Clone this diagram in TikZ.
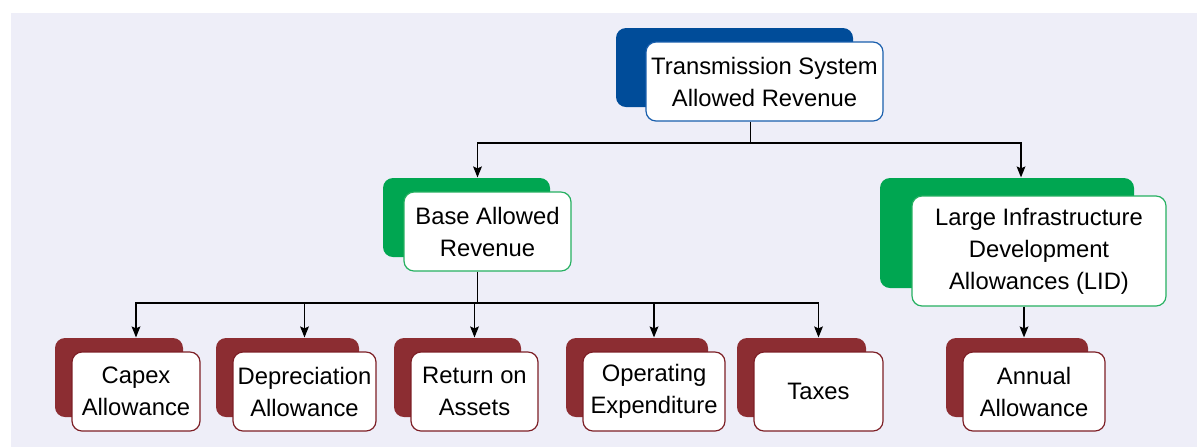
\documentclass[tikz,border=0pt]{standalone}
\usepackage{fontspec}
\setmainfont{Liberation Sans}
\usetikzlibrary{arrows.meta, shadows}

\definecolor{revblue}{HTML}{004C99}
\definecolor{revblueline}{HTML}{1A5FAD}
\definecolor{revgreen}{HTML}{00A651}
\definecolor{revgreenline}{HTML}{26B061}
\definecolor{revred}{HTML}{8C2D32}
\definecolor{revredline}{HTML}{7D1F26}
\definecolor{backdrop}{HTML}{EEEEF8}

\tikzset{
  card/.style={rectangle, rounded corners=5pt, fill=white, line width=0.6pt,
    inner sep=0pt, align=center, minimum height=39.5pt,
    font=\fontsize{11.9}{16}\selectfont},
  bluecard/.style={card, draw=revblueline,
    copy shadow={shadow xshift=-15pt, shadow yshift=7pt, fill=revblue, draw=none}},
  greencard/.style={card, draw=revgreenline,
    copy shadow={shadow xshift=-10.5pt, shadow yshift=7pt, fill=revgreen, draw=none}},
  lidcard/.style={card, draw=revgreenline,
    copy shadow={shadow xshift=-16pt, shadow yshift=9pt, fill=revgreen, draw=none}},
  redcard/.style={card, draw=revredline,
    copy shadow={shadow xshift=-8.5pt, shadow yshift=7pt, fill=revred, draw=none}}
}

\begin{document}
\begin{tikzpicture}[x=0.5pt, y=-0.5pt, >={Stealth[length=5.5pt, width=4.4pt, inset=1pt]},
    line width=0.6pt]
  \fill[backdrop] (11,13) rectangle (1197,447);
  \useasboundingbox (0,0) rectangle (1197,447);

% define the revenue blocks
  \node[bluecard, minimum width=118.5pt] (tsar) at (764.5,81.5)
{Transmission System\\Allowed Revenue};
  \node[greencard, minimum width=83.5pt] (bar) at (487.5,231.5)
{Base Allowed\\Revenue};
  \node[lidcard, minimum width=127pt, minimum height=55pt] (lid) at (1039,251)
{Large Infrastructure\\Development\\Allowances (LID)};

% define the allowances
  \node[redcard, minimum width=64pt] (capex) at (136,391.5)
{Capex\\Allowance};
  \node[redcard, minimum width=71.5pt] (depr) at (304.5,391.5)
{Depreciation\\Allowance};
  \node[redcard, minimum width=63.5pt] (roa) at (474.5,391.5)
{Return on\\Assets};
  \node[redcard, minimum width=71pt] (opex) at (654,391.5)
{Operating\\Expenditure};
  \node[redcard, minimum width=64.5pt] (taxes) at (818.5,391.5)
{Taxes};
  \node[redcard, minimum width=71pt] (annual) at (1034,391.5)
{Annual\\Allowance};

% define the links
  \coordinate (split1) at (750.5,143);
  \coordinate (split2) at (477.5,303);
  \draw ([xshift=-7pt]tsar.south) -- (split1);
  \draw[->, shorten >=7pt] (split1) -| ([xshift=-5pt]bar.north);
  \draw[->, shorten >=9pt] (split1) -| ([xshift=-9pt]lid.north);
  \draw ([xshift=-5pt]bar.south) -- (split2);
  \foreach \leaf in {capex, depr, roa, opex, taxes}
    \draw[->, shorten >=7pt] (split2) -| (\leaf.north);
  \draw[->, shorten >=7pt] ([xshift=-7.5pt]lid.south) -- ([xshift=-5pt]annual.north);

\end{tikzpicture}
\end{document}
